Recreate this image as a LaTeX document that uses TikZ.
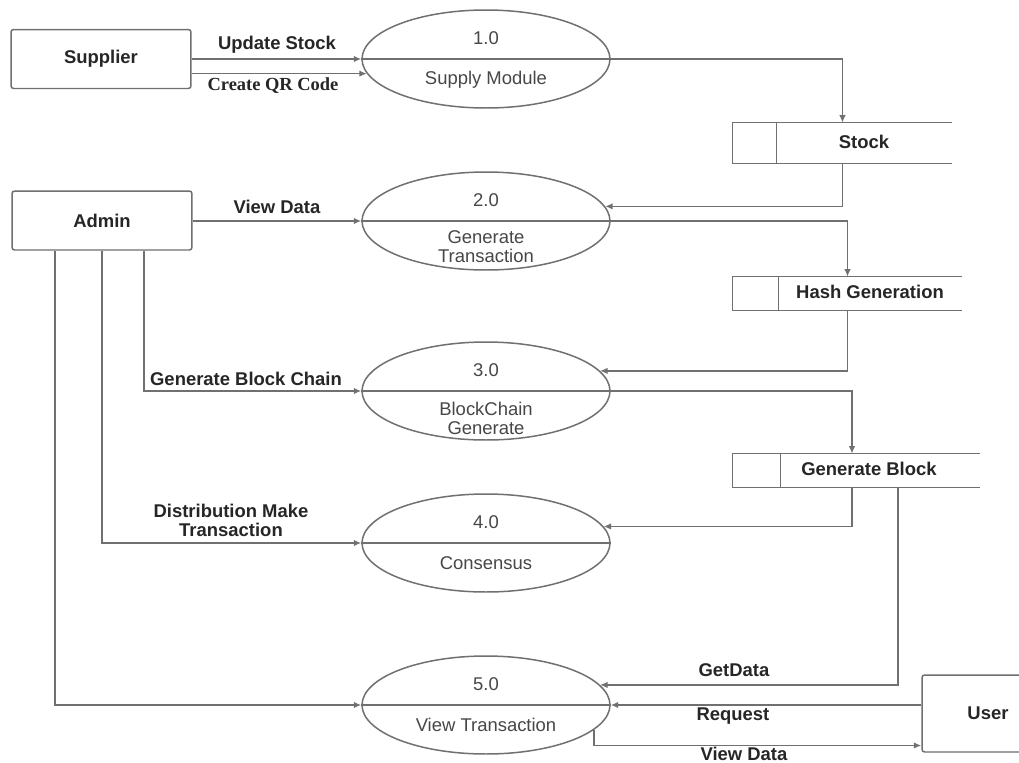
\documentclass[tikz,border=0pt]{standalone}
\usepackage{fontspec}
\setmainfont{Liberation Sans}
\newfontfamily\qrserif{Liberation Serif}
\usetikzlibrary{arrows.meta,calc,shapes.geometric}
\definecolor{LineGray}{HTML}{707070}
\definecolor{Ink}{HTML}{262626}
\definecolor{SoftInk}{HTML}{474747}

\begin{document}
\begin{tikzpicture}[x=0.02cm,y=-0.02cm,every node/.style={font=\fontsize{10.5}{10.8}\selectfont,text=Ink},line/.style={draw=LineGray,line width=0.85pt},flow/.style={line,-{Latex[length=1.5mm,width=1.3mm]}},entity/.style={draw=LineGray,line width=0.85pt,rounded corners=1.5pt,minimum width=3.6cm,minimum height=1.18cm,font=\fontsize{10.5}{10.8}\selectfont\bfseries},process/.style={ellipse,draw=LineGray,line width=0.85pt,inner sep=0pt,minimum width=4.96cm,minimum height=1.96cm},store/.style={inner sep=0pt,minimum height=0.66cm},lbl/.style={font=\fontsize{10.5}{10.8}\selectfont\bfseries,inner sep=1pt,align=center},ptext/.style={text=SoftInk,align=center,inner sep=0pt}]
\useasboundingbox (0,0) rectangle (1019,762);
\clip (0,0) rectangle (1019,762);
\fill[white] (0,0) rectangle (1019,762);

\node[entity] (supplier) at (101,59) {Supplier}; \node[entity] (admin) at (102,220.5) {Admin};
\node[entity,minimum width=2.64cm,minimum height=1.54cm] (user) at (988,713.5) {User};

\node[process] (p1) at (486,59) {}; \node[process] (p2) at (486,221) {}; \node[process] (p3) at (486,391) {};
\node[process] (p4) at (486,543) {}; \node[process] (p5) at (486,705) {};
\foreach \p in {p1,p2,p3,p4,p5} \draw[line] (\p.west) -- (\p.east);
\node[ptext] (p1num) at (486,38) {1.0}; \node[ptext] (p1name) at (486,80) {Supply Module};
\node[ptext] (p2num) at (486,200) {2.0}; \node[ptext] (p2name) at (486,247) {Generate\\Transaction};
\node[ptext] (p3num) at (486,370) {3.0}; \node[ptext] (p3name) at (486,418) {BlockChain\\Generate};
\node[ptext] (p4num) at (486,522) {4.0}; \node[ptext] (p4name) at (486,563) {Consensus};
\node[ptext] (p5num) at (486,684) {5.0}; \node[ptext] (p5name) at (486,725) {View Transaction};

\node[store,minimum width=4.38cm,minimum height=0.8cm] (stock) at (842.5,143) {};
\node[store,minimum width=4.58cm] (hash) at (847.5,293.5) {};
\node[store,minimum width=4.94cm] (gblock) at (856.5,470.5) {};
\draw[line] (stock.north east) -- (stock.north west) -- (stock.south west) -- (stock.south east); \draw[line] ([xshift=0.88cm]stock.north west) -- ([xshift=0.88cm]stock.south west);
\draw[line] (hash.north east) -- (hash.north west) -- (hash.south west) -- (hash.south east); \draw[line] ([xshift=0.92cm]hash.north west) -- ([xshift=0.92cm]hash.south west);
\draw[line] (gblock.north east) -- (gblock.north west) -- (gblock.south west) -- (gblock.south east); \draw[line] ([xshift=0.96cm]gblock.north west) -- ([xshift=0.96cm]gblock.south west);
\node[lbl] (stocklbl) at (864,142) {Stock}; \node[lbl] (hashlbl) at (870,292) {Hash Generation}; \node[lbl] (gblocklbl) at (869,469) {Generate Block};

\draw[flow] (supplier.east) -- (p1.west); \node[lbl] (lupdate) at (277,45) {Update Stock};
\draw[flow] (supplier.east |- p1.187) -- (p1.187); \node[lbl,font=\fontsize{10.5}{10.8}\selectfont\qrserif\bfseries] (lqr) at (273,86) {Create QR Code};
\draw[flow] (p1.east) -| (stock.north); \draw[flow] (stock.south) |- (p2.7);
\draw[flow] (admin.east |- p2.west) -- (p2.west); \node[lbl] (lview) at (277,207) {View Data};
\draw[flow] (p2.east) -| (hash.north); \draw[flow] (hash.south) |- (p3.10);
\draw[flow] ([xshift=0.84cm]admin.south) |- (p3.west); \node[lbl] (lchain) at (246,379) {Generate Block Chain};
\draw[flow] (p3.east) -| ([xshift=-0.09cm]gblock.north); \draw[flow] ([xshift=-0.09cm]gblock.south) |- (p4.8);
\draw[flow] (admin.south) |- (p4.west); \node[lbl] (ldist) at (231,520) {Distribution Make\\Transaction};
\draw[flow] ([xshift=-0.94cm]admin.south) |- (p5.west);
\draw[flow] ([xshift=0.83cm]gblock.south) |- (p5.10); \node[lbl] (lget) at (734,670) {GetData};
\draw[flow] (user.west |- p5.east) -- (p5.east); \node[lbl] (lreq) at (733,716) {Request};
\draw[flow] (p5.347) |- ([yshift=-0.64cm]user.west); \node[lbl] (lviewu) at (744,754) {View Data};

\end{tikzpicture}
\end{document}
